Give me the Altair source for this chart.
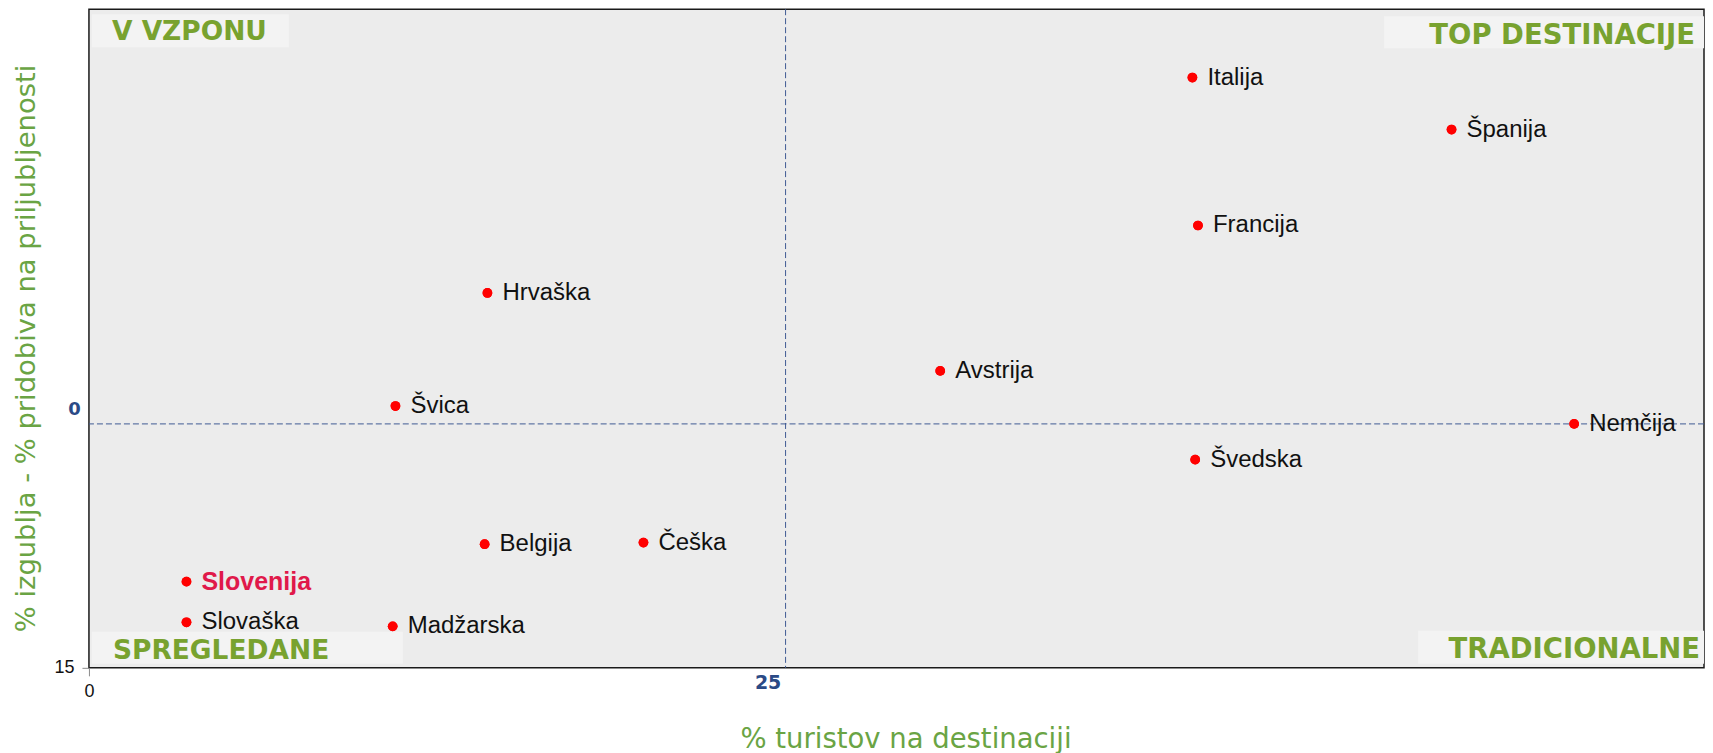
import altair as alt
import pandas as pd

# ---- data ----
countries = ["Italija", "Španija", "Francija", "Hrvaška", "Avstrija", "Švica", "Nemčija",
             "Švedska", "Belgija", "Češka", "Slovenija", "Slovaška", "Madžarska"]
tourists = [39.6, 48.9, 39.8, 14.3, 30.55, 11.0, 53.3, 39.7, 14.2, 19.9, 3.5, 3.5, 10.9]
net_change = [21.3, 18.1, 12.2, 8.05, 3.26, 1.1, 0.0, -2.2, -7.4, -7.3, -9.7, -12.2, -12.45]
highlight = "Slovenija"

quadrant_labels = ["V VZPONU", "TOP DESTINACIJE", "SPREGLEDANE", "TRADICIONALNE"]
x_split = 25
y_split = 0
x_ticks = [0, 25]
y_ticks = [-15, 0]
x_domain = [0, 57.96]
y_domain = [-15, 25.5]

df = pd.DataFrame({"country": countries, "tourists": tourists, "net": net_change})

W, H = 1616, 659
GREEN_T = "#6aa444"
GREEN_Q = "#78a22f"
NAVY = "#2b4a86"

x_axis = alt.Axis(
    values=x_ticks, domain=False, grid=False, tickSize=8,
    tickColor={"condition": {"test": "datum.value == 0", "value": "#8c8c8c"}, "value": "transparent"},
    labelPadding=7, labelFlush=False,
    labelFontSize={"condition": {"test": "datum.value == 0", "value": 18}, "value": 19},
    labelFont={"condition": {"test": "datum.value == 0", "value": "Liberation Sans"}, "value": "DejaVu Sans"},
    labelFontWeight={"condition": {"test": "datum.value == 0", "value": "normal"}, "value": "bold"},
    labelColor={"condition": {"test": "datum.value == 0", "value": "#111111"}, "value": NAVY},
    labelBaseline={"condition": {"test": "datum.value == 0", "value": "top"}, "value": "middle"},
    labelOffset={"condition": {"test": "datum.value == 0", "value": 0}, "value": -18},
    title="% turistov na destinaciji", titleFont="DejaVu Sans", titleFontSize=27.5,
    titleFontWeight="normal", titleColor=GREEN_T, titleBaseline="alphabetic",
    titleY=80, titleX=817,
)

y_axis = alt.Axis(
    values=y_ticks, domain=False, grid=False, tickSize=7,
    tickColor={"condition": {"test": "datum.value == 0", "value": "transparent"}, "value": "#8c8c8c"},
    labelExpr="toString(abs(datum.value))", labelPadding=8, labelFlush=False,
    labelFontSize=18,
    labelFont={"condition": {"test": "datum.value == 0", "value": "DejaVu Sans"}, "value": "Liberation Sans"},
    labelFontWeight={"condition": {"test": "datum.value == 0", "value": "bold"}, "value": "normal"},
    labelColor={"condition": {"test": "datum.value == 0", "value": NAVY}, "value": "#111111"},
    labelAlign={"condition": {"test": "datum.value == 0", "value": "center"}, "value": "right"},
    labelOffset={"condition": {"test": "datum.value == 0", "value": -14}, "value": 0},
    title="% izgublja - % pridobiva na priljubljenosti", titleFont="DejaVu Sans", titleFontSize=27.4,
    titleFontWeight="normal", titleColor=GREEN_T, titleBaseline="alphabetic", titleX=-54, titleY=339,
)

x_enc = alt.X("tourists:Q", scale=alt.Scale(domain=x_domain, nice=False, zero=False), axis=x_axis)
y_enc = alt.Y("net:Q", scale=alt.Scale(domain=y_domain, nice=False, zero=False), axis=y_axis)

base = alt.Chart(df)

points = base.mark_circle(size=95, color="#ff0000", opacity=1).encode(x=x_enc, y=y_enc)

labels = base.transform_filter(alt.datum.country != highlight).mark_text(
    align="left", baseline="middle", dx=15, font="Liberation Sans", fontSize=24, color="#111111"
).encode(x="tourists:Q", y="net:Q", text="country:N")

label_hl = base.transform_filter(alt.datum.country == highlight).mark_text(
    align="left", baseline="middle", dx=15, font="Liberation Sans", fontSize=25,
    fontWeight="bold", color="#e0194a"
).encode(x="tourists:Q", y="net:Q", text="country:N")

dash = dict(color="#3f5a94", strokeDash=[6, 3], strokeWidth=1)
vrule = alt.Chart(pd.DataFrame({"v": [x_split]})).mark_rule(**dash).encode(x="v:Q")
hrule = alt.Chart(pd.DataFrame({"h": [y_split]})).mark_rule(**dash).encode(y="h:Q")

# quadrant label boxes and texts (layout positions in pixels)
box_pos = [(3, 200, 5, 38), (1296, W, 7, 39), (3, 314, 623, 655), (1330, W, 622, 655)]
txt_pos = [(23, 31, "left", 26.5), (1607, 35, "right", 27.5),
           (24, 650, "left", 26.5), (1612, 649, "right", 27.5)]
quad_layers = []
for lab, (x1, x2, y1, y2) in zip(quadrant_labels, box_pos):
    quad_layers.append(
        alt.Chart(pd.DataFrame({"label": [lab]})).mark_rect(color="#f3f3f3").encode(
            x=alt.value(x1), x2=alt.value(x2), y=alt.value(y1), y2=alt.value(y2)
        )
    )
for lab, (tx, ty, al, fs) in zip(quadrant_labels, txt_pos):
    quad_layers.append(
        alt.Chart(pd.DataFrame({"label": [lab]})).mark_text(
            align=al, baseline="alphabetic", font="DejaVu Sans", fontSize=fs,
            fontWeight="bold", color=GREEN_Q
        ).encode(x=alt.value(tx), y=alt.value(ty), text="label:N")
    )

chart = alt.layer(points, *quad_layers, vrule, hrule, points, labels, label_hl).properties(
    width=W, height=H, padding={"left": 5, "top": 0, "right": 0, "bottom": 0},
    background="white",
).configure_view(fill="#ececec", stroke="#1a1a1a", strokeWidth=1.5)

chart.save("out.html", embed_options={"renderer": "svg", "actions": False})
